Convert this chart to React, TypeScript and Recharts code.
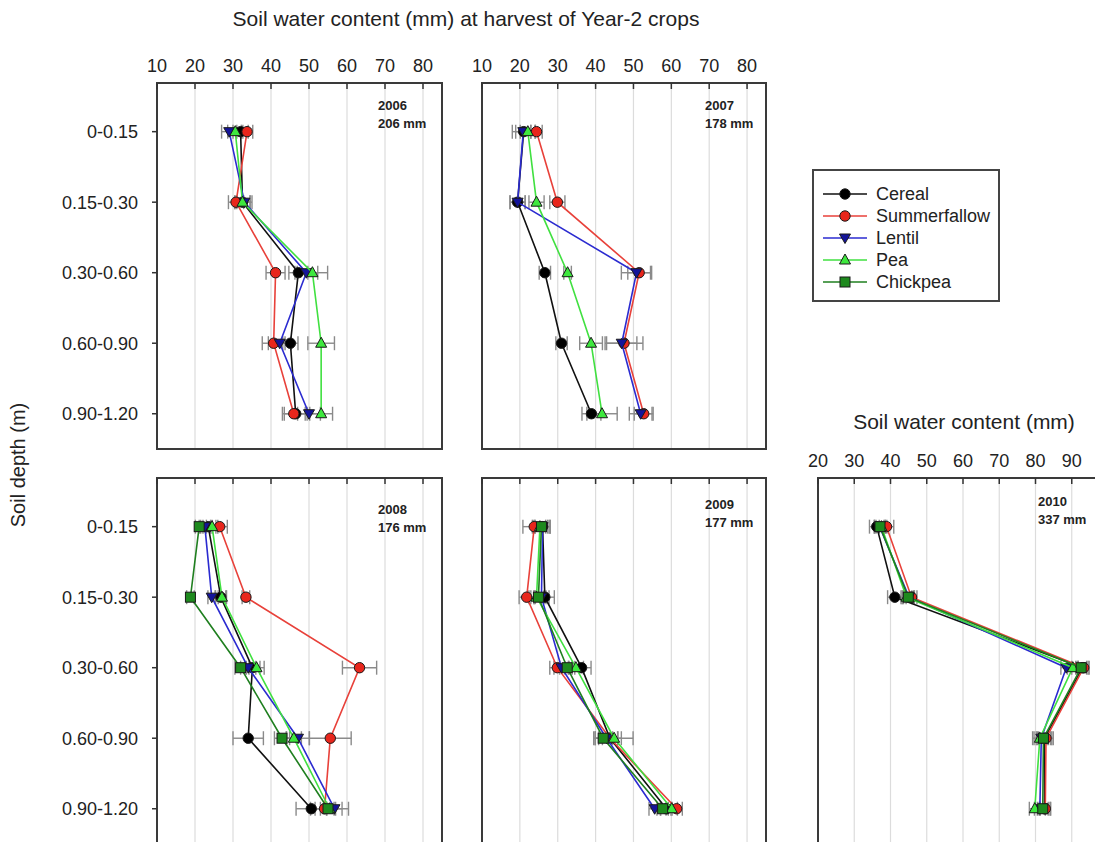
import React from "react";
import {
  ScatterChart,
  Scatter,
  XAxis,
  YAxis,
  CartesianGrid,
  ErrorBar,
  ReferenceArea,
} from "recharts";

const FONT = '"Liberation Sans", Arial, Helvetica, sans-serif';

const DEPTHS = ["0-0.15", "0.15-0.30", "0.30-0.60", "0.60-0.90", "0.90-1.20"];
const SERIES = ["Cereal", "Summerfallow", "Lentil", "Pea", "Chickpea"];
const TICKS_A = [10, 20, 30, 40, 50, 60, 70, 80];
const TICKS_B = [20, 30, 40, 50, 60, 70, 80, 90];

// soil water (mm) per depth
const W2006: Record<string, number[]> = {
  Cereal: [32, 32.5, 47.2, 45.1, 46.5],
  Summerfallow: [33.7, 30.8, 41.2, 40.7, 46],
  Lentil: [29, 33, 49.3, 42.3, 50],
  Pea: [30.6, 32.5, 50.9, 53.2, 53.2],
};
const E2006: Record<string, number[]> = {
  Cereal: [2, 2, 2.5, 2, 3],
  Summerfallow: [1.5, 2, 2.5, 3, 3],
  Lentil: [2, 2, 3, 3, 3],
  Pea: [2, 2, 4, 3.5, 3],
};

const W2007: Record<string, number[]> = {
  Cereal: [21, 19.4, 26.6, 31, 38.9],
  Summerfallow: [24.4, 29.9, 51.5, 47.5, 52.7],
  Lentil: [20.9, 19.4, 50.8, 46.9, 51.9],
  Pea: [22.1, 24.4, 32.6, 38.8, 41.7],
};
const E2007: Record<string, number[]> = {
  Cereal: [3, 2, 1.5, 1.5, 2.5],
  Summerfallow: [1.5, 2, 3, 5, 2.5],
  Lentil: [2, 2, 4, 4, 3],
  Pea: [2, 2, 1, 3, 4],
};

const W2008: Record<string, number[]> = {
  Cereal: [23.5, 26.8, 35.1, 34, 50.6],
  Summerfallow: [26.5, 33.4, 63.3, 55.6, 54.1],
  Lentil: [22.6, 24.4, 34, 47.1, 56.7],
  Pea: [24.5, 27.1, 36.2, 46, 55.4],
  Chickpea: [21.1, 18.8, 32, 42.9, 55],
};
const E2008: Record<string, number[]> = {
  Cereal: [2, 1.5, 2, 4, 4],
  Summerfallow: [2, 1, 4.5, 5.5, 2.5],
  Lentil: [1.5, 1, 2, 3, 2],
  Pea: [1.5, 1, 2, 2, 5],
  Chickpea: [1, 1, 1.5, 2, 2],
};

const W2009: Record<string, number[]> = {
  Cereal: [26, 26.6, 36.3, 43.8, 58.7],
  Summerfallow: [23.8, 21.8, 29.9, 43.8, 61.4],
  Lentil: [26, 25.7, 31, 42.9, 55.6],
  Pea: [25.3, 24.4, 34.8, 44.9, 60.1],
  Chickpea: [25.7, 24.9, 32.5, 42, 57.7],
};
const E2009: Record<string, number[]> = {
  Cereal: [2, 2.5, 2.5, 2, 1.5],
  Summerfallow: [3, 2, 2, 3, 1.5],
  Lentil: [2, 2, 2, 3, 1.5],
  Pea: [2, 2, 2, 5, 1.5],
  Chickpea: [2, 2, 2, 2.5, 1.5],
};

const W2010: Record<string, number[]> = {
  Cereal: [36.2, 41.2, 93, 82.5, 82.5],
  Summerfallow: [38.9, 45.8, 93.3, 82.9, 82.7],
  Lentil: [37, 45.1, 88.5, 81.6, 81.2],
  Pea: [37.5, 44.4, 90.3, 81.2, 79.8],
  Chickpea: [37.1, 44.9, 92.6, 82.2, 82],
};
const E2010: Record<string, number[]> = {
  Cereal: [2, 2, 1.5, 2, 1.5],
  Summerfallow: [2, 1.5, 1.5, 2, 1.5],
  Lentil: [1.5, 1.5, 1.5, 2, 1.5],
  Pea: [1.5, 1.5, 1.5, 2, 1.5],
  Chickpea: [1.5, 1.5, 1.5, 2, 1.5],
};

const STYLE: Record<string, { line: string; fill: string; kind: string }> = {
  Cereal: { line: "#111111", fill: "#000000", kind: "circle" },
  Summerfallow: { line: "#e8413a", fill: "#e8261c", kind: "circle" },
  Lentil: { line: "#2b2bd0", fill: "#14149a", kind: "down" },
  Pea: { line: "#40e040", fill: "#3ee83e", kind: "up" },
  Chickpea: { line: "#1f7f1f", fill: "#1e8a1e", kind: "square" },
};

function Marker({ kind, fill, cx, cy }: any) {
  if (cx == null || cy == null) return null;
  const st = { fill, stroke: "#1a1a1a", strokeWidth: 1 };
  if (kind === "circle") return <circle cx={cx} cy={cy} r={5.2} {...st} />;
  if (kind === "down")
    return (
      <polygon
        points={`${cx - 5.5},${cy - 4} ${cx + 5.5},${cy - 4} ${cx},${cy + 5.5}`}
        {...st}
      />
    );
  if (kind === "up")
    return (
      <polygon
        points={`${cx - 5.5},${cy + 4} ${cx + 5.5},${cy + 4} ${cx},${cy - 6}`}
        {...st}
      />
    );
  return <rect x={cx - 5} y={cy - 5} width={10} height={10} {...st} />;
}

const TOP = 40; // x-axis band height above plot

function TopTick({ x, y, payload, show }: any) {
  return (
    <g>
      {show && (
        <text
          x={x}
          y={y - 11}
          textAnchor="middle"
          fontSize={18}
          fontFamily={FONT}
          fill="#222"
        >
          {payload.value}
        </text>
      )}
      <line x1={x} x2={x} y1={y} y2={y + 6} stroke="#333" strokeWidth={1.5} />
    </g>
  );
}

type PanelProps = {
  vals: Record<string, number[]>;
  errs: Record<string, number[]>;
  left: number;
  top: number;
  plotW: number;
  domain: [number, number];
  ticks: number[];
  xLabels: boolean;
  yLabels: boolean;
  year: string;
  rain: string;
  noteLeft: number;
  noteTop: number;
};

const PLOT_H = 366;

function Panel(p: PanelProps) {
  const L = p.yLabels ? 157 : 12;
  const names = SERIES.filter((s) => p.vals[s]);
  return (
    <div style={{ position: "absolute", left: p.left - L, top: p.top - TOP }}>
      <ScatterChart
        width={L + p.plotW + 2}
        height={TOP + PLOT_H + 2}
        margin={{ top: 0, left: 0, right: 2, bottom: 2 }}
      >
        <CartesianGrid horizontal={false} stroke="#dcdcdc" strokeWidth={1.2} />
        <XAxis
          type="number"
          dataKey="x"
          orientation="top"
          domain={p.domain}
          ticks={p.ticks}
          interval={0}
          height={TOP}
          tickSize={0}
          tickMargin={0}
          axisLine={false}
          tickLine={false}
          allowDataOverflow
          tick={<TopTick show={p.xLabels} />}
        />
        <YAxis
          type="number"
          dataKey="y"
          domain={[-0.69, 4.5]}
          reversed
          ticks={[0, 1, 2, 3, 4]}
          interval={0}
          width={L}
          tickSize={5}
          tickMargin={14}
          axisLine={false}
          tickLine={{ stroke: "#333", strokeWidth: 1.5 }}
          tick={
            p.yLabels
              ? { fontSize: 18, fill: "#222", fontFamily: FONT }
              : false
          }
          tickFormatter={(i: number) => DEPTHS[i] ?? ""}
          allowDataOverflow
        />
        {names.map((s) => (
          <Scatter
            key={s}
            name={s}
            data={p.vals[s].map((v, i) => ({ x: v, y: i, e: p.errs[s][i] }))}
            fill={STYLE[s].fill}
            line={{ stroke: STYLE[s].line, strokeWidth: 1.6 }}
            isAnimationActive={false}
            shape={(props: any) => (
              <Marker
                kind={STYLE[s].kind}
                fill={STYLE[s].fill}
                cx={props.cx}
                cy={props.cy}
              />
            )}
          >
            <ErrorBar
              dataKey="e"
              direction="x"
              width={7}
              stroke="#8a8a8a"
              strokeWidth={1.4}
              isAnimationActive={false}
            />
          </Scatter>
        ))}
        <ReferenceArea
          x1={p.domain[0]}
          x2={p.domain[1]}
          y1={-0.69}
          y2={4.5}
          fill="none"
          fillOpacity={0}
          stroke="#3a3a3a"
          strokeWidth={2}
          ifOverflow="visible"
        />
      </ScatterChart>
      <div
        style={{
          position: "absolute",
          left: p.noteLeft - (p.left - L),
          top: p.noteTop - (p.top - TOP),
          fontFamily: FONT,
          fontWeight: "bold",
          fontSize: 13,
          lineHeight: "18px",
          color: "#222",
        }}
      >
        <div>{p.year}</div>
        <div>{p.rain}</div>
      </div>
    </div>
  );
}

function LegendIcon({ name }: { name: string }) {
  const st = STYLE[name];
  return (
    <svg width={44} height={14} style={{ display: "block" }}>
      <line x1={0} x2={44} y1={7} y2={7} stroke={st.line} strokeWidth={1.6} />
      <Marker kind={st.kind} fill={st.fill} cx={22} cy={7} />
    </svg>
  );
}

export default function App() {
  return (
    <div
      style={{
        position: "absolute",
        left: 0,
        top: 0,
        width: 1095,
        height: 842,
        overflow: "hidden",
        background: "#fff",
        fontFamily: FONT,
        color: "#222",
      }}
    >
      <div
        style={{
          position: "absolute",
          left: 216,
          top: 7,
          width: 500,
          textAlign: "center",
          fontSize: 21,
          whiteSpace: "nowrap",
        }}
      >
        Soil water content (mm) at harvest of Year-2 crops
      </div>
      <div
        style={{
          position: "absolute",
          left: 18,
          top: 465,
          fontSize: 20,
          whiteSpace: "nowrap",
          transform: "translate(-50%, -50%) rotate(-90deg)",
        }}
      >
        Soil depth (m)
      </div>
      <div
        style={{
          position: "absolute",
          left: 853,
          top: 410,
          width: 222,
          textAlign: "center",
          fontSize: 21,
          whiteSpace: "nowrap",
        }}
      >
        Soil water content (mm)
      </div>

      <Panel vals={W2006} errs={E2006} left={157} top={83} plotW={285}
        domain={[10, 85]} ticks={TICKS_A} xLabels yLabels
        year="2006" rain="206 mm" noteLeft={378} noteTop={97} />
      <Panel vals={W2007} errs={E2007} left={482} top={83} plotW={284}
        domain={[10, 85]} ticks={TICKS_A} xLabels yLabels={false}
        year="2007" rain="178 mm" noteLeft={705} noteTop={97} />
      <Panel vals={W2008} errs={E2008} left={157} top={478} plotW={285}
        domain={[10, 85]} ticks={TICKS_A} xLabels={false} yLabels
        year="2008" rain="176 mm" noteLeft={378} noteTop={501} />
      <Panel vals={W2009} errs={E2009} left={482} top={478} plotW={284}
        domain={[10, 85]} ticks={TICKS_A} xLabels={false} yLabels={false}
        year="2009" rain="177 mm" noteLeft={705} noteTop={496} />
      <Panel vals={W2010} errs={E2010} left={818} top={478} plotW={290}
        domain={[20, 100]} ticks={TICKS_B} xLabels yLabels={false}
        year="2010" rain="337 mm" noteLeft={1038} noteTop={493} />

      <div
        style={{
          position: "absolute",
          left: 812,
          top: 169,
          width: 188,
          height: 133,
          border: "2px solid #444",
          background: "#fff",
          paddingTop: 12,
          boxSizing: "border-box",
        }}
      >
        {SERIES.map((s) => (
          <div
            key={s}
            style={{
              display: "flex",
              alignItems: "center",
              height: 22,
              paddingLeft: 9,
              fontSize: 18,
            }}
          >
            <LegendIcon name={s} />
            <span style={{ marginLeft: 9 }}>{s}</span>
          </div>
        ))}
      </div>
    </div>
  );
}
